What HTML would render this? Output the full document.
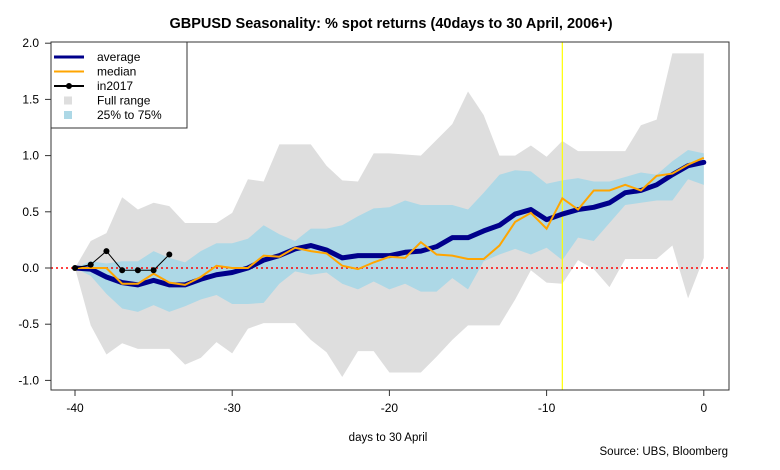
<!DOCTYPE html>
<html><head><meta charset="utf-8"><style>
body{margin:0;background:#fff;}
svg{display:block;font-family:"Liberation Sans",Arial,sans-serif;}
</style></head><body>
<svg id="chart" width="780" height="470" viewBox="0 0 780 470">
<text x="391" y="28" text-anchor="middle" font-size="14.5" font-weight="bold" fill="#000">GBPUSD Seasonality: % spot returns (40days to 30 April, 2006+)</text>
<g id="plot"></g>
<text x="388" y="441" text-anchor="middle" font-size="11.5" fill="#000">days to 30 April</text>
<text x="728" y="455" text-anchor="end" font-size="11.5" fill="#000">Source: UBS, Bloomberg</text>
</svg>
<script>
const days = [-40,-39,-38,-37,-36,-35,-34,-33,-32,-31,-30,-29,-28,-27,-26,-25,-24,-23,-22,-21,-20,-19,-18,-17,-16,-15,-14,-13,-12,-11,-10,-9,-8,-7,-6,-5,-4,-3,-2,-1,0];
const averageVals = [0,-0.01,-0.08,-0.13,-0.15,-0.11,-0.15,-0.15,-0.10,-0.06,-0.04,0,0.07,0.11,0.17,0.20,0.16,0.09,0.11,0.11,0.11,0.14,0.15,0.19,0.27,0.27,0.33,0.38,0.48,0.52,0.43,0.48,0.52,0.54,0.58,0.67,0.69,0.74,0.83,0.91,0.94];
const medianVals = [0,0,0,-0.14,-0.14,-0.05,-0.13,-0.15,-0.08,0.02,0,0,0.11,0.10,0.18,0.15,0.13,0.02,-0.01,0.05,0.10,0.09,0.23,0.12,0.11,0.08,0.08,0.20,0.41,0.49,0.35,0.62,0.52,0.69,0.69,0.74,0.69,0.82,0.84,0.92,0.98];
const days2017 = [-40,-39,-38,-37,-36,-35,-34];
const vals2017 = [0,0.03,0.15,-0.02,-0.02,-0.02,0.12];
const fullHigh = [0,0.24,0.31,0.63,0.52,0.58,0.55,0.40,0.40,0.40,0.49,0.79,0.77,1.10,1.10,1.10,0.91,0.78,0.77,1.02,1.02,1.01,1.00,1.14,1.28,1.57,1.36,1.00,1.00,1.09,0.99,1.13,1.04,1.04,1.04,1.04,1.27,1.32,1.91,1.91,1.91];
const fullLow = [0,-0.51,-0.77,-0.67,-0.72,-0.72,-0.72,-0.86,-0.80,-0.66,-0.76,-0.54,-0.49,-0.49,-0.49,-0.64,-0.75,-0.97,-0.74,-0.74,-0.93,-0.93,-0.93,-0.79,-0.64,-0.51,-0.51,-0.51,-0.28,-0.02,-0.13,-0.14,0.07,-0.01,-0.17,0.08,0.08,0.08,0.20,-0.27,0.09];
const q75 = [0,0.06,0.04,0.06,0.06,0.15,0.09,0.05,0.15,0.22,0.22,0.26,0.38,0.30,0.24,0.35,0.35,0.38,0.46,0.53,0.54,0.60,0.56,0.56,0.56,0.52,0.67,0.83,0.87,0.86,0.75,0.78,0.80,0.77,0.77,0.81,0.85,0.83,0.95,1.05,1.02];
const q25 = [0,-0.07,-0.23,-0.36,-0.39,-0.33,-0.39,-0.34,-0.28,-0.24,-0.32,-0.32,-0.31,-0.14,-0.03,-0.06,-0.04,-0.14,-0.19,-0.12,-0.19,-0.14,-0.21,-0.21,-0.09,-0.19,0.06,0.12,0.17,0.12,0.18,0.07,0.27,0.24,0.40,0.56,0.58,0.60,0.60,0.79,0.74];
const xTicks = [-40,-30,-20,-10,0];
const yTicks = [-1.0,-0.5,0.0,0.5,1.0,1.5,2.0];
const markerDay = -9;

const NS="http://www.w3.org/2000/svg";
const L=51,R=729,T=42,B=390;
const xs=d=>75+(d+40)*15.72;
const ys=v=>268-v*112.4;
const g=document.getElementById('plot');
function mk(tag,attrs,parent){const e=document.createElementNS(NS,tag);for(const k in attrs)e.setAttribute(k,attrs[k]);(parent||g).appendChild(e);return e;}
function band(hi,lo){let p=days.map((d,i)=>xs(d)+','+ys(hi[i]));for(let i=days.length-1;i>=0;i--)p.push(xs(days[i])+','+ys(lo[i]));return p.join(' ');}
function line(xsArr,vals){return xsArr.map((d,i)=>xs(d)+','+ys(vals[i])).join(' ');}

let e=mk('polygon',{points:band(fullHigh,fullLow),fill:'#dedede'});


e=mk('polygon',{points:band(q75,q25),fill:'#add8e6'});


e=mk('line',{x1:L,x2:R,y1:ys(0),y2:ys(0),stroke:'#ff0000','stroke-width':1.5,'stroke-dasharray':'2,3'});


e=mk('line',{x1:xs(markerDay),x2:xs(markerDay),y1:T,y2:B,stroke:'#ffff00','stroke-width':1.2});


e=mk('polyline',{points:line(days,averageVals),fill:'none',stroke:'#00008b','stroke-width':5,'stroke-linejoin':'round','stroke-linecap':'round'});


e=mk('polyline',{points:line(days,medianVals),fill:'none',stroke:'#ffa500','stroke-width':2});


e=mk('polyline',{points:line(days2017,vals2017),fill:'none',stroke:'#000','stroke-width':1});


days2017.forEach((d,i)=>{const c=mk('circle',{cx:xs(d),cy:ys(vals2017[i]),r:3,fill:'#000'});

});
e=mk('rect',{x:L,y:T,width:R-L,height:B-T,fill:'none',stroke:'#333','stroke-width':1});


xTicks.forEach(t=>{mk('line',{x1:xs(t),x2:xs(t),y1:B,y2:B+6,stroke:'#333'});
const tx=mk('text',{x:xs(t),y:B+22,'text-anchor':'middle','font-size':12});tx.textContent=t;

});
yTicks.forEach(t=>{mk('line',{x1:L-6,x2:L,y1:ys(t),y2:ys(t),stroke:'#333'});
const tx=mk('text',{x:L-12,y:ys(t)+4,'text-anchor':'end','font-size':12});tx.textContent=t.toFixed(1);

});
// legend
const lg=mk('g',{});


mk('rect',{x:L,y:T,width:136,height:86,fill:'#fff',stroke:'#333'},lg);
const items=[['average','line','#00008b',3],['median','line','#ffa500',2],['in2017','pt','#000',2],['Full range','sq','#dedede'],['25% to 75%','sq','#add8e6']];
items.forEach((it,i)=>{const y=T+15+i*14.5;
if(it[1]==='line'||it[1]==='pt')mk('line',{x1:54,x2:84,y1:y,y2:y,stroke:it[2],'stroke-width':it[3]},lg);
if(it[1]==='pt')mk('circle',{cx:69,cy:y,r:3,fill:'#000'},lg);
if(it[1]==='sq')mk('rect',{x:64,y:y-4,width:8,height:8,fill:it[2]},lg);
const tx=mk('text',{x:97,y:y+4,'font-size':12},lg);tx.textContent=it[0];

});
</script>
</body></html>
